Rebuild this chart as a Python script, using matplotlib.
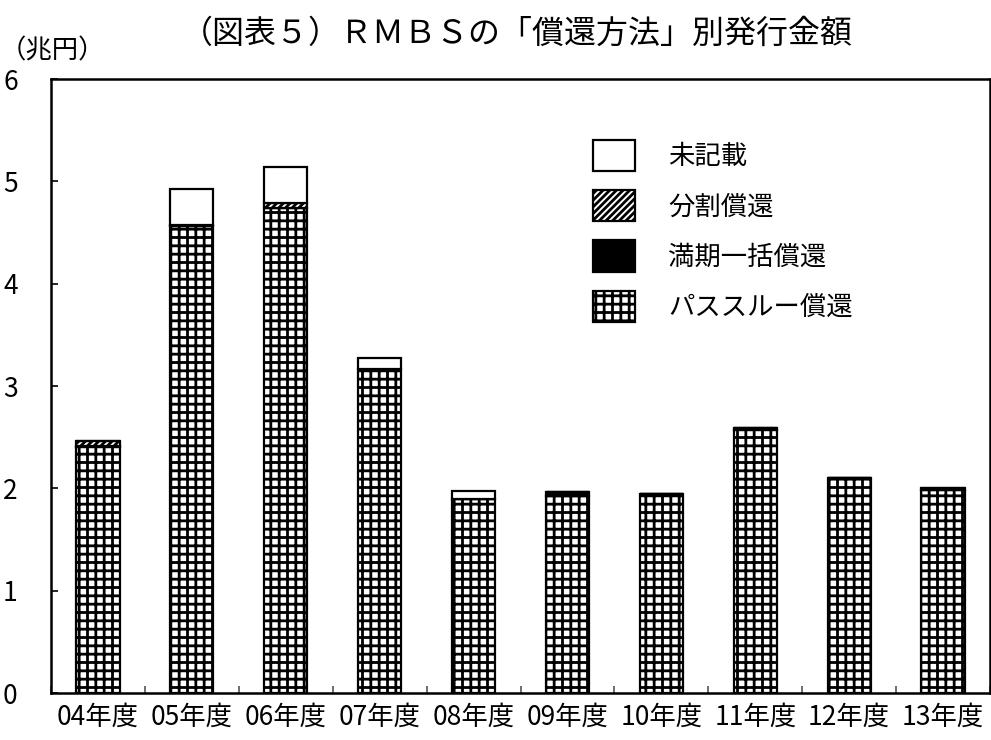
import numpy as np
import matplotlib
matplotlib.use("Agg")
import matplotlib.pyplot as plt
from matplotlib.patches import Patch

plt.rcParams['font.family'] = ['Noto Sans CJK JP', 'DejaVu Sans']
plt.rcParams['hatch.linewidth'] = 2.0

# Issuance amount by redemption method (trillion yen)
categories = ['04年度', '05年度', '06年度', '07年度', '08年度',
              '09年度', '10年度', '11年度', '12年度', '13年度']
passthrough = [2.40, 4.56, 4.74, 3.17, 1.90, 1.93, 1.95, 2.57, 2.10, 1.98]
bullet = [0.01, 0.00, 0.00, 0.00, 0.00, 0.03, 0.00, 0.02, 0.00, 0.00]
amortizing = [0.05, 0.01, 0.05, 0.00, 0.00, 0.00, 0.00, 0.00, 0.00, 0.02]
unknown = [0.00, 0.36, 0.35, 0.10, 0.07, 0.00, 0.00, 0.00, 0.00, 0.00]

series_labels = ['パススルー償還', '満期一括償還', '分割償還', '未記載']
yticks = [0, 1, 2, 3, 4, 5, 6]

fig = plt.figure(figsize=(9.91, 7.40), dpi=100)
ax = fig.add_axes([0.0515, 0.0635, 0.9475, 0.8295])

x = np.arange(len(categories))
width = 0.46
edge_lw = 1.6

styles = [
    dict(facecolor='white', hatch='++'),
    dict(facecolor='black', hatch=None),
    dict(facecolor='white', hatch='/////'),
    dict(facecolor='white', hatch=None),
]
data = [passthrough, bullet, amortizing, unknown]

bottom = np.zeros(len(categories))
for vals, st in zip(data, styles):
    vals = np.array(vals)
    ax.bar(x, vals, width, bottom=bottom, edgecolor='black',
           linewidth=edge_lw, **st)
    bottom += vals

ax.set_xlim(-0.5, len(categories) - 0.5)
ax.set_ylim(0, 6)
ax.set_yticks(yticks)
ax.set_yticklabels([str(v) for v in yticks])
ax.set_xticks(x)
ax.set_xticklabels(categories)
ax.set_xticks(np.arange(-0.5, len(categories), 1), minor=True)

ax.tick_params(axis='y', direction='in', length=5, width=1.2,
               pad=24, labelsize=19)
ax.tick_params(axis='x', which='major', length=0, pad=8, labelsize=19)
ax.tick_params(axis='x', which='minor', direction='in', length=5,
               width=1.2, color='#555555')
for s in ax.spines.values():
    s.set_linewidth(1.8)

# Legend, listed top to bottom in reverse stack order
handles = [Patch(edgecolor='black', linewidth=edge_lw, **styles[i])
           for i in (3, 2, 1, 0)]
labels = [series_labels[i] for i in (3, 2, 1, 0)]
ax.legend(handles, labels, loc='upper left',
          bbox_to_anchor=(0.552, 0.94), frameon=False, fontsize=19,
          handlelength=1.6, handleheight=1.45, handletextpad=1.25,
          labelspacing=0.72)

fig.text(0.522, 0.955, '（図表５）ＲＭＢＳの「償還方法」別発行金額',
         ha='center', va='center', fontsize=23)
fig.text(0.0, 0.931, '（兆円）', ha='left', va='center', fontsize=19)

fig.savefig('out.png', dpi=100)
